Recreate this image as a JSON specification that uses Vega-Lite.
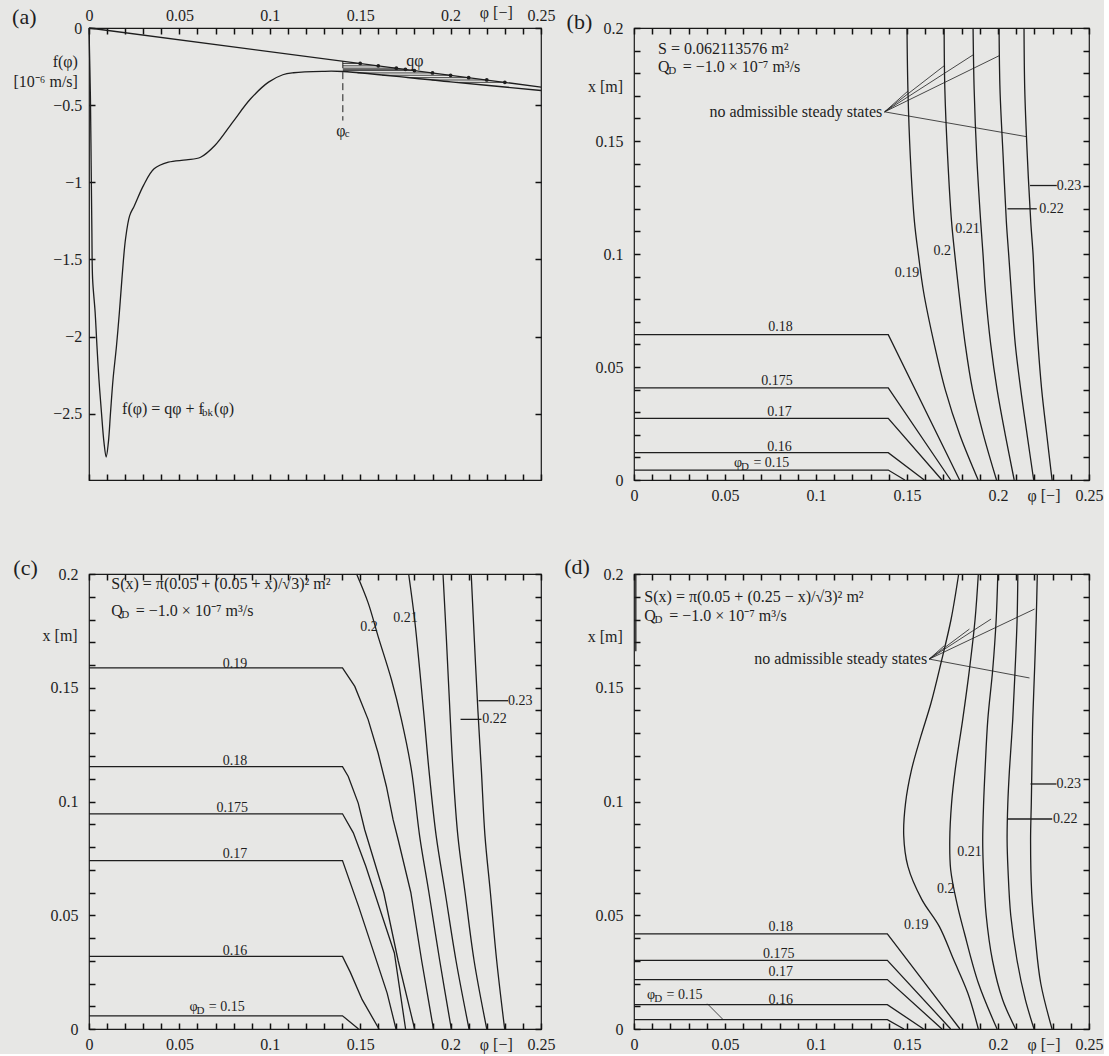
{
"$schema":"https://vega.github.io/schema/vega-lite/v6.json",
"background":"#e7e7e5",
"padding":{"left":11,"top":3,"right":0,"bottom":0},
"bounds":"flush",
"columns":2,
"spacing":{"row":94,"column":93},
"config":{
 "view":{"stroke":"#1a1a1a","strokeWidth":1.2},
 "font":"Liberation Serif",
 "axis":{"domain":false,"grid":false,"ticks":true,"tickColor":"#111111","tickOpacity":1,"tickWidth":1.5,"tickSize":6,"labelFont":"Liberation Serif","labelFontSize":16,"labelColor":"#1e1e1e","titleFont":"Liberation Serif","titleFontSize":16,"titleFontWeight":"normal","titleColor":"#1e1e1e","labelFlush":false,"labelOverlap":false,"zindex":1},
 "axisBottom":{"labelBaseline":"middle","labelPadding":15.3},
 "axisLeft":{"labelBaseline":"middle","labelPadding":11},
 "axisTop":{"labelBaseline":"middle","labelPadding":12.7},
 "line":{"color":"#1e1e1e","strokeWidth":1.3},
 "text":{"font":"Liberation Serif","color":"#1e1e1e"}
},
"datasets":{
 "a_lines":[
  {"s":"f","phi":0,"f":0},{"s":"f","phi":0.0008,"f":-0.459},{"s":"f","phi":0.0012,"f":-0.892},{"s":"f","phi":0.0016,"f":-1.325},{"s":"f","phi":0.002,"f":-1.628},{"s":"f","phi":0.0034,"f":-1.844},{"s":"f","phi":0.0044,"f":-2.061},{"s":"f","phi":0.0055,"f":-2.277},{"s":"f","phi":0.0069,"f":-2.494},{"s":"f","phi":0.0083,"f":-2.688},{"s":"f","phi":0.0095,"f":-2.781},{"s":"f","phi":0.0107,"f":-2.688},{"s":"f","phi":0.0119,"f":-2.494},{"s":"f","phi":0.0133,"f":-2.277},{"s":"f","phi":0.0152,"f":-2.061},{"s":"f","phi":0.0168,"f":-1.844},{"s":"f","phi":0.0182,"f":-1.628},{"s":"f","phi":0.0202,"f":-1.368},{"s":"f","phi":0.0225,"f":-1.216},{"s":"f","phi":0.0251,"f":-1.152},{"s":"f","phi":0.0301,"f":-1.022},{"s":"f","phi":0.036,"f":-0.913},{"s":"f","phi":0.0439,"f":-0.87},{"s":"f","phi":0.0538,"f":-0.855},{"s":"f","phi":0.0617,"f":-0.838},{"s":"f","phi":0.0696,"f":-0.762},{"s":"f","phi":0.0795,"f":-0.61},{"s":"f","phi":0.0894,"f":-0.459},{"s":"f","phi":0.0993,"f":-0.351},{"s":"f","phi":0.1072,"f":-0.303},{"s":"f","phi":0.1131,"f":-0.29},{"s":"f","phi":0.129,"f":-0.281},{"s":"f","phi":0.1404,"f":-0.282},{"s":"f","phi":0.2,"f":-0.349},{"s":"f","phi":0.25,"f":-0.405},
  {"s":"q","phi":0,"f":0},{"s":"q","phi":0.25,"f":-0.383}
 ],
 "a_h":[
  {"s":"h15","phi":0.1404,"f":-0.2298},{"s":"h15","phi":0.15,"f":-0.2298},
  {"s":"h16","phi":0.1404,"f":-0.2451},{"s":"h16","phi":0.16,"f":-0.2451},
  {"s":"h17","phi":0.1404,"f":-0.2604},{"s":"h17","phi":0.17,"f":-0.2604},
  {"s":"h175","phi":0.1404,"f":-0.2681},{"s":"h175","phi":0.175,"f":-0.2681},
  {"s":"h18","phi":0.1404,"f":-0.2758},{"s":"h18","phi":0.18,"f":-0.2758},
  {"s":"h19","phi":0.1485,"f":-0.2911},{"s":"h19","phi":0.19,"f":-0.2911},
  {"s":"h20","phi":0.1622,"f":-0.3064},{"s":"h20","phi":0.2,"f":-0.3064},
  {"s":"h21","phi":0.1758,"f":-0.3217},{"s":"h21","phi":0.21,"f":-0.3217},
  {"s":"h22","phi":0.1895,"f":-0.337},{"s":"h22","phi":0.22,"f":-0.337},
  {"s":"h23","phi":0.2033,"f":-0.3524},{"s":"h23","phi":0.23,"f":-0.3524}
 ],
 "a_dash":[{"s":"c","phi":0.1404,"f":-0.215},{"s":"c","phi":0.1404,"f":-0.6}],
 "a_dots":[
  {"phi":0.15,"f":-0.2298},{"phi":0.16,"f":-0.2451},{"phi":0.17,"f":-0.2604},{"phi":0.175,"f":-0.2681},{"phi":0.18,"f":-0.2758},{"phi":0.19,"f":-0.2911},{"phi":0.2,"f":-0.3064},{"phi":0.21,"f":-0.3217},{"phi":0.22,"f":-0.337},{"phi":0.23,"f":-0.3524}
 ],
 "a_tc":[
  {"t":"(a)","role":"panel","phi":-0.0358,"f":0.0714},
  {"t":"qφ","role":"note","phi":0.1803,"f":-0.216}
 ],
 "a_tl":[
  {"t":"φ","role":"note","phi":0.1368,"f":-0.665},
  {"t":"c","role":"sub","phi":0.1414,"f":-0.69},
  {"t":"f(φ) = qφ + f","role":"note","phi":0.0183,"f":-2.47},
  {"t":"bk","role":"sub","phi":0.0625,"f":-2.495},
  {"t":"(φ)","role":"note","phi":0.0692,"f":-2.47}
 ],
 "b_curves":[
  {"s":"l15","phi":0,"x":0.0044},{"s":"l15","phi":0.1397,"x":0.0044},{"s":"l15","phi":0.1488,"x":0},
  {"s":"l16","phi":0,"x":0.0121},{"s":"l16","phi":0.1397,"x":0.0121},{"s":"l16","phi":0.1595,"x":0},
  {"s":"l17","phi":0,"x":0.0273},{"s":"l17","phi":0.1397,"x":0.0273},{"s":"l17","phi":0.1692,"x":0},
  {"s":"l175","phi":0,"x":0.0408},{"s":"l175","phi":0.1397,"x":0.0408},{"s":"l175","phi":0.174,"x":0},
  {"s":"l18","phi":0,"x":0.0643},{"s":"l18","phi":0.1397,"x":0.0643},{"s":"l18","phi":0.1789,"x":0},
  {"s":"u19","phi":0.15,"x":0.2},{"s":"u19","phi":0.1505,"x":0.1728},{"s":"u19","phi":0.1518,"x":0.1435},{"s":"u19","phi":0.1541,"x":0.1142},{"s":"u19","phi":0.1563,"x":0.0995},{"s":"u19","phi":0.1591,"x":0.0833},{"s":"u19","phi":0.165,"x":0.06},{"s":"u19","phi":0.171,"x":0.04},{"s":"u19","phi":0.179,"x":0.02},{"s":"u19","phi":0.1891,"x":0},
  {"s":"u20","phi":0.1704,"x":0.2},{"s":"u20","phi":0.1708,"x":0.1728},{"s":"u20","phi":0.1723,"x":0.1435},{"s":"u20","phi":0.1745,"x":0.1142},{"s":"u20","phi":0.1763,"x":0.0995},{"s":"u20","phi":0.1785,"x":0.0833},{"s":"u20","phi":0.182,"x":0.06},{"s":"u20","phi":0.186,"x":0.04},{"s":"u20","phi":0.192,"x":0.02},{"s":"u20","phi":0.1992,"x":0},
  {"s":"u21","phi":0.1863,"x":0.2},{"s":"u21","phi":0.1869,"x":0.1728},{"s":"u21","phi":0.1883,"x":0.1435},{"s":"u21","phi":0.1905,"x":0.1142},{"s":"u21","phi":0.1918,"x":0.0995},{"s":"u21","phi":0.1931,"x":0.0833},{"s":"u21","phi":0.196,"x":0.06},{"s":"u21","phi":0.1995,"x":0.04},{"s":"u21","phi":0.204,"x":0.02},{"s":"u21","phi":0.2089,"x":0},
  {"s":"u22","phi":0.2006,"x":0.2},{"s":"u22","phi":0.2011,"x":0.1728},{"s":"u22","phi":0.2028,"x":0.1435},{"s":"u22","phi":0.2046,"x":0.1142},{"s":"u22","phi":0.2059,"x":0.0995},{"s":"u22","phi":0.2073,"x":0.0833},{"s":"u22","phi":0.2095,"x":0.06},{"s":"u22","phi":0.2125,"x":0.04},{"s":"u22","phi":0.216,"x":0.02},{"s":"u22","phi":0.2196,"x":0},
  {"s":"u23","phi":0.2143,"x":0.2},{"s":"u23","phi":0.2147,"x":0.1728},{"s":"u23","phi":0.2161,"x":0.1435},{"s":"u23","phi":0.218,"x":0.1142},{"s":"u23","phi":0.2193,"x":0.0995},{"s":"u23","phi":0.2202,"x":0.0833},{"s":"u23","phi":0.222,"x":0.06},{"s":"u23","phi":0.224,"x":0.04},{"s":"u23","phi":0.2268,"x":0.02},{"s":"u23","phi":0.2297,"x":0},
  {"s":"t23","phi":0.2176,"x":0.1303},{"s":"t23","phi":0.2323,"x":0.1303},
  {"s":"t22","phi":0.2052,"x":0.12},{"s":"t22","phi":0.2213,"x":0.12}
 ],
 "b_lead":[
  {"s":"n1","phi":0.1377,"x":0.1629},{"s":"n1","phi":0.1505,"x":0.1721},
  {"s":"n2","phi":0.1377,"x":0.1629},{"s":"n2","phi":0.1706,"x":0.1834},
  {"s":"n3","phi":0.1377,"x":0.1629},{"s":"n3","phi":0.1865,"x":0.1882},
  {"s":"n4","phi":0.1377,"x":0.1629},{"s":"n4","phi":0.2008,"x":0.1878},
  {"s":"n5","phi":0.1377,"x":0.1629},{"s":"n5","phi":0.2158,"x":0.1519}
 ],
 "b_tc":[
  {"t":"(b)","role":"panel","phi":-0.03,"x":0.2026},
  {"t":"0.21","role":"label","phi":0.1833,"x":0.1112},
  {"t":"0.2","role":"label","phi":0.1693,"x":0.1015},
  {"t":"0.19","role":"label","phi":0.15,"x":0.0918},
  {"t":"0.18","role":"label","phi":0.0805,"x":0.0675},
  {"t":"0.175","role":"label","phi":0.0786,"x":0.0437},
  {"t":"0.17","role":"label","phi":0.0799,"x":0.0301},
  {"t":"0.16","role":"label","phi":0.0799,"x":0.0147}
 ],
 "b_tl":[
  {"t":"S = 0.062113576 m²","role":"note","phi":0.0132,"x":0.1907},
  {"t":"Q","role":"note","phi":0.0132,"x":0.1828},
  {"t":"D","role":"sub","phi":0.0188,"x":0.181},
  {"t":"= −1.0 × 10⁻⁷ m³/s","role":"note","phi":0.0268,"x":0.1828},
  {"t":"0.23","role":"label","phi":0.2323,"x":0.1303},
  {"t":"0.22","role":"label","phi":0.2226,"x":0.12},
  {"t":"φ","role":"label","phi":0.0549,"x":0.0074},
  {"t":"D","role":"sub","phi":0.0588,"x":0.0056},
  {"t":"= 0.15","role":"label","phi":0.0656,"x":0.0074}
 ],
 "b_tr":[
  {"t":"no admissible steady states","role":"note","phi":0.1364,"x":0.1629}
 ],
 "c_curves":[
  {"s":"l15","phi":0,"x":0.0058},{"s":"l15","phi":0.1402,"x":0.0058},{"s":"l15","phi":0.1491,"x":0},
  {"s":"l16","phi":0,"x":0.0319},{"s":"l16","phi":0.1402,"x":0.0319},{"s":"l16","phi":0.1445,"x":0.025},{"s":"l16","phi":0.1511,"x":0.0129},{"s":"l16","phi":0.1604,"x":0},
  {"s":"l17","phi":0,"x":0.074},{"s":"l17","phi":0.1402,"x":0.074},{"s":"l17","phi":0.1491,"x":0.0539},{"s":"l17","phi":0.157,"x":0.0349},{"s":"l17","phi":0.1649,"x":0.0158},{"s":"l17","phi":0.1698,"x":0},
  {"s":"l175","phi":0,"x":0.0946},{"s":"l175","phi":0.1402,"x":0.0946},{"s":"l175","phi":0.1462,"x":0.0862},{"s":"l175","phi":0.1531,"x":0.0715},{"s":"l175","phi":0.161,"x":0.0524},{"s":"l175","phi":0.1689,"x":0.0334},{"s":"l175","phi":0.1751,"x":0},
  {"s":"l18","phi":0,"x":0.1153},{"s":"l18","phi":0.1402,"x":0.1153},{"s":"l18","phi":0.1434,"x":0.111},{"s":"l18","phi":0.1489,"x":0.0993},{"s":"l18","phi":0.1525,"x":0.0876},{"s":"l18","phi":0.163,"x":0.06},{"s":"l18","phi":0.171,"x":0.03},{"s":"l18","phi":0.1801,"x":0},
  {"s":"l19","phi":0,"x":0.1587},{"s":"l19","phi":0.1402,"x":0.1587},{"s":"l19","phi":0.147,"x":0.1506},{"s":"l19","phi":0.1544,"x":0.136},{"s":"l19","phi":0.1599,"x":0.1213},{"s":"l19","phi":0.1645,"x":0.1066},{"s":"l19","phi":0.1682,"x":0.092},{"s":"l19","phi":0.171,"x":0.0832},{"s":"l19","phi":0.178,"x":0.06},{"s":"l19","phi":0.184,"x":0.03},{"s":"l19","phi":0.1905,"x":0},
  {"s":"u20","phi":0.148,"x":0.2},{"s":"u20","phi":0.1544,"x":0.1873},{"s":"u20","phi":0.1599,"x":0.1726},{"s":"u20","phi":0.1673,"x":0.1535},{"s":"u20","phi":0.1728,"x":0.136},{"s":"u20","phi":0.1783,"x":0.114},{"s":"u20","phi":0.1829,"x":0.0847},{"s":"u20","phi":0.188,"x":0.06},{"s":"u20","phi":0.194,"x":0.03},{"s":"u20","phi":0.2004,"x":0},
  {"s":"u21","phi":0.1768,"x":0.2},{"s":"u21","phi":0.1801,"x":0.18},{"s":"u21","phi":0.1829,"x":0.158},{"s":"u21","phi":0.1855,"x":0.136},{"s":"u21","phi":0.188,"x":0.114},{"s":"u21","phi":0.192,"x":0.085},{"s":"u21","phi":0.197,"x":0.06},{"s":"u21","phi":0.203,"x":0.03},{"s":"u21","phi":0.2102,"x":0},
  {"s":"u22","phi":0.1958,"x":0.2},{"s":"u22","phi":0.1976,"x":0.1726},{"s":"u22","phi":0.1994,"x":0.1433},{"s":"u22","phi":0.2013,"x":0.114},{"s":"u22","phi":0.204,"x":0.085},{"s":"u22","phi":0.208,"x":0.06},{"s":"u22","phi":0.213,"x":0.03},{"s":"u22","phi":0.22,"x":0},
  {"s":"u23","phi":0.2114,"x":0.2},{"s":"u23","phi":0.2132,"x":0.17},{"s":"u23","phi":0.2151,"x":0.14},{"s":"u23","phi":0.217,"x":0.114},{"s":"u23","phi":0.219,"x":0.085},{"s":"u23","phi":0.222,"x":0.06},{"s":"u23","phi":0.2255,"x":0.03},{"s":"u23","phi":0.2299,"x":0},
  {"s":"t23","phi":0.2155,"x":0.1443},{"s":"t23","phi":0.2318,"x":0.1443},
  {"s":"t22","phi":0.2055,"x":0.1361},{"s":"t22","phi":0.2171,"x":0.1361}
 ],
 "c_tc":[
  {"t":"(c)","role":"panel","phi":-0.0351,"x":0.2026},
  {"t":"0.19","role":"label","phi":0.0807,"x":0.1604},
  {"t":"0.18","role":"label","phi":0.0807,"x":0.1179},
  {"t":"0.175","role":"label","phi":0.0792,"x":0.0973},
  {"t":"0.17","role":"label","phi":0.0807,"x":0.0771},
  {"t":"0.16","role":"label","phi":0.0807,"x":0.0344},
  {"t":"0.2","role":"label","phi":0.1548,"x":0.1766},
  {"t":"0.21","role":"label","phi":0.175,"x":0.1808}
 ],
 "c_tl":[
  {"t":"S(x) = π(0.05 + (0.05 + x)/√3)² m²","role":"note","phi":0.0123,"x":0.1957},
  {"t":"Q","role":"note","phi":0.0123,"x":0.1839},
  {"t":"D","role":"sub","phi":0.0179,"x":0.1821},
  {"t":"= −1.0 × 10⁻⁷ m³/s","role":"note","phi":0.0259,"x":0.1839},
  {"t":"0.23","role":"label","phi":0.2318,"x":0.1443},
  {"t":"0.22","role":"label","phi":0.2175,"x":0.1361},
  {"t":"φ","role":"label","phi":0.0556,"x":0.0096},
  {"t":"D","role":"sub","phi":0.0595,"x":0.0078},
  {"t":"= 0.15","role":"label","phi":0.0663,"x":0.0096}
 ],
 "d_curves":[
  {"s":"v0","phi":0.001,"x":0.166},{"s":"v0","phi":0.001,"x":0.2},
  {"s":"l15","phi":0,"x":0.0041},{"s":"l15","phi":0.1392,"x":0.0041},{"s":"l15","phi":0.1483,"x":0},
  {"s":"l16","phi":0,"x":0.0107},{"s":"l16","phi":0.1392,"x":0.0107},{"s":"l16","phi":0.1591,"x":0},
  {"s":"l17","phi":0,"x":0.0217},{"s":"l17","phi":0.1392,"x":0.0217},{"s":"l17","phi":0.1692,"x":0},
  {"s":"l175","phi":0,"x":0.0302},{"s":"l175","phi":0.1392,"x":0.0302},{"s":"l175","phi":0.174,"x":0},
  {"s":"l18","phi":0,"x":0.0418},{"s":"l18","phi":0.1392,"x":0.0418},{"s":"l18","phi":0.1791,"x":0},
  {"s":"u19","phi":0.1784,"x":0.2},{"s":"u19","phi":0.1742,"x":0.18},{"s":"u19","phi":0.1687,"x":0.161},{"s":"u19","phi":0.1632,"x":0.1433},{"s":"u19","phi":0.1576,"x":0.1286},{"s":"u19","phi":0.1525,"x":0.114},{"s":"u19","phi":0.1492,"x":0.0993},{"s":"u19","phi":0.1482,"x":0.085},{"s":"u19","phi":0.1505,"x":0.0715},{"s":"u19","phi":0.1581,"x":0.057},{"s":"u19","phi":0.1678,"x":0.045},{"s":"u19","phi":0.1756,"x":0.0305},{"s":"u19","phi":0.1834,"x":0.0158},{"s":"u19","phi":0.1892,"x":0},
  {"s":"u20","phi":0.1892,"x":0.2},{"s":"u20","phi":0.1874,"x":0.18},{"s":"u20","phi":0.1843,"x":0.158},{"s":"u20","phi":0.1806,"x":0.136},{"s":"u20","phi":0.1765,"x":0.114},{"s":"u20","phi":0.1745,"x":0.0993},{"s":"u20","phi":0.1735,"x":0.0832},{"s":"u20","phi":0.174,"x":0.07},{"s":"u20","phi":0.1775,"x":0.055},{"s":"u20","phi":0.1815,"x":0.0423},{"s":"u20","phi":0.1892,"x":0.0202},{"s":"u20","phi":0.1995,"x":0},
  {"s":"u21","phi":0.1999,"x":0.2},{"s":"u21","phi":0.199,"x":0.18},{"s":"u21","phi":0.1971,"x":0.158},{"s":"u21","phi":0.1944,"x":0.136},{"s":"u21","phi":0.1929,"x":0.114},{"s":"u21","phi":0.1921,"x":0.0993},{"s":"u21","phi":0.1916,"x":0.0832},{"s":"u21","phi":0.192,"x":0.07},{"s":"u21","phi":0.1935,"x":0.05},{"s":"u21","phi":0.197,"x":0.03},{"s":"u21","phi":0.2025,"x":0.013},{"s":"u21","phi":0.2097,"x":0},
  {"s":"u22","phi":0.2109,"x":0.2},{"s":"u22","phi":0.2105,"x":0.18},{"s":"u22","phi":0.2094,"x":0.158},{"s":"u22","phi":0.2081,"x":0.136},{"s":"u22","phi":0.2063,"x":0.114},{"s":"u22","phi":0.2054,"x":0.0993},{"s":"u22","phi":0.205,"x":0.0832},{"s":"u22","phi":0.2055,"x":0.07},{"s":"u22","phi":0.207,"x":0.05},{"s":"u22","phi":0.2105,"x":0.03},{"s":"u22","phi":0.215,"x":0.013},{"s":"u22","phi":0.2198,"x":0},
  {"s":"u23","phi":0.2216,"x":0.2},{"s":"u23","phi":0.221,"x":0.18},{"s":"u23","phi":0.2201,"x":0.158},{"s":"u23","phi":0.2191,"x":0.136},{"s":"u23","phi":0.2186,"x":0.114},{"s":"u23","phi":0.2183,"x":0.0993},{"s":"u23","phi":0.2179,"x":0.0832},{"s":"u23","phi":0.2185,"x":0.06},{"s":"u23","phi":0.2205,"x":0.04},{"s":"u23","phi":0.2235,"x":0.02},{"s":"u23","phi":0.2297,"x":0},
  {"s":"t23","phi":0.2179,"x":0.1077},{"s":"t23","phi":0.2321,"x":0.1077},
  {"s":"t22","phi":0.205,"x":0.0923},{"s":"t22","phi":0.2298,"x":0.0923}
 ],
 "d_lead":[
  {"s":"n1","phi":0.1622,"x":0.1626},{"s":"n1","phi":0.1705,"x":0.1685},
  {"s":"n2","phi":0.1622,"x":0.1626},{"s":"n2","phi":0.1843,"x":0.1758},
  {"s":"n3","phi":0.1622,"x":0.1626},{"s":"n3","phi":0.1962,"x":0.1802},
  {"s":"n4","phi":0.1622,"x":0.1626},{"s":"n4","phi":0.2201,"x":0.1846},
  {"s":"n5","phi":0.1622,"x":0.1626},{"s":"n5","phi":0.2173,"x":0.1543},
  {"s":"p","phi":0.0403,"x":0.0111},{"s":"p","phi":0.049,"x":0.0041}
 ],
 "d_tc":[
  {"t":"(d)","role":"panel","phi":-0.0313,"x":0.203},
  {"t":"0.18","role":"label","phi":0.0807,"x":0.0447},
  {"t":"0.175","role":"label","phi":0.0795,"x":0.0331},
  {"t":"0.17","role":"label","phi":0.0807,"x":0.0249},
  {"t":"0.16","role":"label","phi":0.0807,"x":0.0128},
  {"t":"0.19","role":"label","phi":0.1551,"x":0.0458},
  {"t":"0.2","role":"label","phi":0.1713,"x":0.0617},
  {"t":"0.21","role":"label","phi":0.1843,"x":0.0777}
 ],
 "d_tl":[
  {"t":"S(x) = π(0.05 + (0.25 − x)/√3)² m²","role":"note","phi":0.0057,"x":0.1897},
  {"t":"Q","role":"note","phi":0.0057,"x":0.1815},
  {"t":"D","role":"sub","phi":0.0113,"x":0.1797},
  {"t":"= −1.0 × 10⁻⁷ m³/s","role":"note","phi":0.0193,"x":0.1815},
  {"t":"0.23","role":"label","phi":0.2321,"x":0.1077},
  {"t":"0.22","role":"label","phi":0.2302,"x":0.0923},
  {"t":"φ","role":"label","phi":0.0072,"x":0.0151},
  {"t":"D","role":"sub","phi":0.0111,"x":0.0133},
  {"t":"= 0.15","role":"label","phi":0.0179,"x":0.0151}
 ],
 "d_tr":[
  {"t":"no admissible steady states","role":"note","phi":0.1611,"x":0.1626}
 ]
},
"concat":[
 {
  "width":452,"height":452,
  "layer":[
   {"data":{"name":"a_lines"},"transform":[{"filter":"datum.s !== 'f'"}],"mark":{"type":"line","order":false},
    "encoding":{
     "x":{"field":"phi","type":"quantitative","scale":{"domain":[0,0.25],"nice":false,"zero":false},
      "axis":{"orient":"top","offset":-6,"values":[0,0.01,0.02,0.03,0.04,0.05,0.06,0.07,0.08,0.09,0.1,0.11,0.12,0.13,0.14,0.15,0.16,0.17,0.18,0.19,0.2,0.21,0.22,0.23,0.24,0.25],"format":"~g","labelExpr":"round(datum.value*100) % 5 === 0 ? datum.label : ''","title":"φ [−]","titleX":406.8,"titleY":-22,"titleAlign":"center","titleBaseline":"middle","titleAngle":0}},
     "y":{"field":"f","type":"quantitative","scale":{"domain":[-2.93,0],"nice":false,"zero":false},
      "axis":{"orient":"left","offset":-6,"values":[0,-0.5,-1,-1.5,-2,-2.5],"format":"~g","labelPadding":7.2,"title":["f(φ)","[10⁻⁶ m/s]"],"titleX":-17.6,"titleY":33.5,"titleAlign":"right","titleBaseline":"middle","titleAngle":0,"titleLineHeight":19.5}},
     "detail":{"field":"s"}}},
   {"data":{"name":"a_lines"},"transform":[{"filter":"datum.s === 'f'"}],"mark":{"type":"line","order":false,"interpolate":"catmull-rom"},
    "encoding":{
     "x":{"field":"phi","type":"quantitative","scale":{"domain":[0,0.25],"nice":false,"zero":false},"axis":null},
     "y":{"field":"f","type":"quantitative","scale":{"domain":[-2.93,0],"nice":false,"zero":false},"axis":null}}},
   {"data":{"name":"a_h"},"mark":{"type":"line","order":false,"strokeWidth":0.8},
    "encoding":{
     "x":{"field":"phi","type":"quantitative","scale":{"domain":[0,0.25],"nice":false,"zero":false},"axis":null},
     "y":{"field":"f","type":"quantitative","scale":{"domain":[-2.93,0],"nice":false,"zero":false},"axis":null},
     "detail":{"field":"s"}}},
   {"data":{"name":"a_dash"},"mark":{"type":"line","order":false,"strokeWidth":1,"strokeDash":[7,4]},
    "encoding":{
     "x":{"field":"phi","type":"quantitative","scale":{"domain":[0,0.25],"nice":false,"zero":false},"axis":null},
     "y":{"field":"f","type":"quantitative","scale":{"domain":[-2.93,0],"nice":false,"zero":false},"axis":null}}},
   {"data":{"name":"a_dots"},"mark":{"type":"point","filled":true,"size":14,"color":"#1e1e1e","opacity":1},
    "encoding":{
     "x":{"field":"phi","type":"quantitative","scale":{"domain":[0,0.25],"nice":false,"zero":false},
      "axis":{"orient":"bottom","offset":-6,"values":[0,0.01,0.02,0.03,0.04,0.05,0.06,0.07,0.08,0.09,0.1,0.11,0.12,0.13,0.14,0.15,0.16,0.17,0.18,0.19,0.2,0.21,0.22,0.23,0.24,0.25],"labels":false,"title":null}},
     "y":{"field":"f","type":"quantitative","scale":{"domain":[-2.93,0],"nice":false,"zero":false},
      "axis":{"orient":"right","offset":-6,"values":[0,-0.5,-1,-1.5,-2,-2.5],"labels":false,"title":null}}}},
   {"data":{"name":"a_tc"},"mark":{"type":"text","align":"center","baseline":"middle"},
    "encoding":{
     "x":{"field":"phi","type":"quantitative","scale":{"domain":[0,0.25],"nice":false,"zero":false},"axis":null},
     "y":{"field":"f","type":"quantitative","scale":{"domain":[-2.93,0],"nice":false,"zero":false},"axis":null},
     "text":{"field":"t"},
     "size":{"field":"role","type":"nominal","scale":{"type":"ordinal","domain":["label","note","panel","sub"],"range":[14,16,22,11]},"legend":null}}},
   {"data":{"name":"a_tl"},"mark":{"type":"text","align":"left","baseline":"middle"},
    "encoding":{
     "x":{"field":"phi","type":"quantitative","scale":{"domain":[0,0.25],"nice":false,"zero":false},"axis":null},
     "y":{"field":"f","type":"quantitative","scale":{"domain":[-2.93,0],"nice":false,"zero":false},"axis":null},
     "text":{"field":"t"},
     "size":{"field":"role","type":"nominal","scale":{"type":"ordinal","domain":["label","note","panel","sub"],"range":[14,16,22,11]},"legend":null}}}
  ],
  "resolve":{"axis":{"x":"independent","y":"independent"}}
 },
 {
  "width":455,"height":452,
  "layer":[
   {"data":{"name":"b_curves"},"transform":[{"filter":"indexof(datum.s,'u') !== 0"}],"mark":{"type":"line","order":false},
    "encoding":{
     "x":{"field":"phi","type":"quantitative","scale":{"domain":[0,0.25],"nice":false,"zero":false},
      "axis":{"orient":"bottom","offset":-6,"values":[0,0.01,0.02,0.03,0.04,0.05,0.06,0.07,0.08,0.09,0.1,0.11,0.12,0.13,0.14,0.15,0.16,0.17,0.18,0.19,0.2,0.21,0.22,0.23,0.24,0.25],"format":"~g","labelExpr":"round(datum.value*100) % 5 === 0 ? datum.label : ''","title":"φ [−]","titleX":409.5,"titleY":21.7,"titleAlign":"center","titleBaseline":"middle","titleAngle":0}},
     "y":{"field":"x","type":"quantitative","scale":{"domain":[0,0.2],"nice":false,"zero":false},
      "axis":{"orient":"left","offset":-6,"values":[0,0.01,0.02,0.03,0.04,0.05,0.06,0.07,0.08,0.09,0.1,0.11,0.12,0.13,0.14,0.15,0.16,0.17,0.18,0.19,0.2],"format":"~g","labelExpr":"round(datum.value*100) % 5 === 0 ? datum.label : ''","title":"x [m]","titleX":-17.4,"titleY":58,"titleAlign":"right","titleBaseline":"middle","titleAngle":0}},
     "detail":{"field":"s"}}},
   {"data":{"name":"b_curves"},"transform":[{"filter":"indexof(datum.s,'u') === 0"}],"mark":{"type":"line","order":false,"interpolate":"catmull-rom"},
    "encoding":{
     "x":{"field":"phi","type":"quantitative","scale":{"domain":[0,0.25],"nice":false,"zero":false},"axis":null},
     "y":{"field":"x","type":"quantitative","scale":{"domain":[0,0.2],"nice":false,"zero":false},"axis":null},
     "detail":{"field":"s"}}},
   {"data":{"name":"b_lead"},"mark":{"type":"line","order":false,"strokeWidth":0.8},
    "encoding":{
     "x":{"field":"phi","type":"quantitative","scale":{"domain":[0,0.25],"nice":false,"zero":false},"axis":null},
     "y":{"field":"x","type":"quantitative","scale":{"domain":[0,0.2],"nice":false,"zero":false},"axis":null},
     "detail":{"field":"s"}}},
   {"data":{"name":"b_tc"},"mark":{"type":"text","align":"center","baseline":"middle"},
    "encoding":{
     "x":{"field":"phi","type":"quantitative","scale":{"domain":[0,0.25],"nice":false,"zero":false},
      "axis":{"orient":"top","offset":-6,"values":[0,0.01,0.02,0.03,0.04,0.05,0.06,0.07,0.08,0.09,0.1,0.11,0.12,0.13,0.14,0.15,0.16,0.17,0.18,0.19,0.2,0.21,0.22,0.23,0.24,0.25],"labels":false,"title":null}},
     "y":{"field":"x","type":"quantitative","scale":{"domain":[0,0.2],"nice":false,"zero":false},
      "axis":{"orient":"right","offset":-6,"values":[0,0.01,0.02,0.03,0.04,0.05,0.06,0.07,0.08,0.09,0.1,0.11,0.12,0.13,0.14,0.15,0.16,0.17,0.18,0.19,0.2],"labels":false,"title":null}},
     "text":{"field":"t"},
     "size":{"field":"role","type":"nominal","scale":{"type":"ordinal","domain":["label","note","panel","sub"],"range":[14,16,22,11]},"legend":null}}},
   {"data":{"name":"b_tl"},"mark":{"type":"text","align":"left","baseline":"middle"},
    "encoding":{
     "x":{"field":"phi","type":"quantitative","scale":{"domain":[0,0.25],"nice":false,"zero":false},"axis":null},
     "y":{"field":"x","type":"quantitative","scale":{"domain":[0,0.2],"nice":false,"zero":false},"axis":null},
     "text":{"field":"t"},
     "size":{"field":"role","type":"nominal","scale":{"type":"ordinal","domain":["label","note","panel","sub"],"range":[14,16,22,11]},"legend":null}}},
   {"data":{"name":"b_tr"},"mark":{"type":"text","align":"right","baseline":"middle"},
    "encoding":{
     "x":{"field":"phi","type":"quantitative","scale":{"domain":[0,0.25],"nice":false,"zero":false},"axis":null},
     "y":{"field":"x","type":"quantitative","scale":{"domain":[0,0.2],"nice":false,"zero":false},"axis":null},
     "text":{"field":"t"},
     "size":{"field":"role","type":"nominal","scale":{"type":"ordinal","domain":["label","note","panel","sub"],"range":[14,16,22,11]},"legend":null}}}
  ],
  "resolve":{"axis":{"x":"independent","y":"independent"}}
 },
 {
  "width":452,"height":455,
  "layer":[
   {"data":{"name":"c_curves"},"transform":[{"filter":"indexof(datum.s,'u') !== 0"}],"mark":{"type":"line","order":false},
    "encoding":{
     "x":{"field":"phi","type":"quantitative","scale":{"domain":[0,0.25],"nice":false,"zero":false},
      "axis":{"orient":"bottom","offset":-6,"values":[0,0.01,0.02,0.03,0.04,0.05,0.06,0.07,0.08,0.09,0.1,0.11,0.12,0.13,0.14,0.15,0.16,0.17,0.18,0.19,0.2,0.21,0.22,0.23,0.24,0.25],"format":"~g","labelExpr":"round(datum.value*100) % 5 === 0 ? datum.label : ''","title":"φ [−]","titleX":406.8,"titleY":21.7,"titleAlign":"center","titleBaseline":"middle","titleAngle":0}},
     "y":{"field":"x","type":"quantitative","scale":{"domain":[0,0.2],"nice":false,"zero":false},
      "axis":{"orient":"left","offset":-6,"values":[0,0.01,0.02,0.03,0.04,0.05,0.06,0.07,0.08,0.09,0.1,0.11,0.12,0.13,0.14,0.15,0.16,0.17,0.18,0.19,0.2],"format":"~g","labelExpr":"round(datum.value*100) % 5 === 0 ? datum.label : ''","title":"x [m]","titleX":-17.8,"titleY":61,"titleAlign":"right","titleBaseline":"middle","titleAngle":0}},
     "detail":{"field":"s"}}},
   {"data":{"name":"c_curves"},"transform":[{"filter":"indexof(datum.s,'u') === 0"}],"mark":{"type":"line","order":false,"interpolate":"catmull-rom"},
    "encoding":{
     "x":{"field":"phi","type":"quantitative","scale":{"domain":[0,0.25],"nice":false,"zero":false},"axis":null},
     "y":{"field":"x","type":"quantitative","scale":{"domain":[0,0.2],"nice":false,"zero":false},"axis":null},
     "detail":{"field":"s"}}},
   {"data":{"name":"c_tc"},"mark":{"type":"text","align":"center","baseline":"middle"},
    "encoding":{
     "x":{"field":"phi","type":"quantitative","scale":{"domain":[0,0.25],"nice":false,"zero":false},
      "axis":{"orient":"top","offset":-6,"values":[0,0.01,0.02,0.03,0.04,0.05,0.06,0.07,0.08,0.09,0.1,0.11,0.12,0.13,0.14,0.15,0.16,0.17,0.18,0.19,0.2,0.21,0.22,0.23,0.24,0.25],"labels":false,"title":null}},
     "y":{"field":"x","type":"quantitative","scale":{"domain":[0,0.2],"nice":false,"zero":false},
      "axis":{"orient":"right","offset":-6,"values":[0,0.01,0.02,0.03,0.04,0.05,0.06,0.07,0.08,0.09,0.1,0.11,0.12,0.13,0.14,0.15,0.16,0.17,0.18,0.19,0.2],"labels":false,"title":null}},
     "text":{"field":"t"},
     "size":{"field":"role","type":"nominal","scale":{"type":"ordinal","domain":["label","note","panel","sub"],"range":[14,16,22,11]},"legend":null}}},
   {"data":{"name":"c_tl"},"mark":{"type":"text","align":"left","baseline":"middle"},
    "encoding":{
     "x":{"field":"phi","type":"quantitative","scale":{"domain":[0,0.25],"nice":false,"zero":false},"axis":null},
     "y":{"field":"x","type":"quantitative","scale":{"domain":[0,0.2],"nice":false,"zero":false},"axis":null},
     "text":{"field":"t"},
     "size":{"field":"role","type":"nominal","scale":{"type":"ordinal","domain":["label","note","panel","sub"],"range":[14,16,22,11]},"legend":null}}}
  ],
  "resolve":{"axis":{"x":"independent","y":"independent"}}
 },
 {
  "width":455,"height":455,
  "layer":[
   {"data":{"name":"d_curves"},"transform":[{"filter":"indexof(datum.s,'u') !== 0"}],"mark":{"type":"line","order":false},
    "encoding":{
     "x":{"field":"phi","type":"quantitative","scale":{"domain":[0,0.25],"nice":false,"zero":false},
      "axis":{"orient":"bottom","offset":-6,"values":[0,0.01,0.02,0.03,0.04,0.05,0.06,0.07,0.08,0.09,0.1,0.11,0.12,0.13,0.14,0.15,0.16,0.17,0.18,0.19,0.2,0.21,0.22,0.23,0.24,0.25],"format":"~g","labelExpr":"round(datum.value*100) % 5 === 0 ? datum.label : ''","title":"φ [−]","titleX":409.5,"titleY":21.7,"titleAlign":"center","titleBaseline":"middle","titleAngle":0}},
     "y":{"field":"x","type":"quantitative","scale":{"domain":[0,0.2],"nice":false,"zero":false},
      "axis":{"orient":"left","offset":-6,"values":[0,0.01,0.02,0.03,0.04,0.05,0.06,0.07,0.08,0.09,0.1,0.11,0.12,0.13,0.14,0.15,0.16,0.17,0.18,0.19,0.2],"format":"~g","labelExpr":"round(datum.value*100) % 5 === 0 ? datum.label : ''","title":"x [m]","titleX":-17.6,"titleY":62,"titleAlign":"right","titleBaseline":"middle","titleAngle":0}},
     "detail":{"field":"s"}}},
   {"data":{"name":"d_curves"},"transform":[{"filter":"indexof(datum.s,'u') === 0"}],"mark":{"type":"line","order":false,"interpolate":"catmull-rom"},
    "encoding":{
     "x":{"field":"phi","type":"quantitative","scale":{"domain":[0,0.25],"nice":false,"zero":false},"axis":null},
     "y":{"field":"x","type":"quantitative","scale":{"domain":[0,0.2],"nice":false,"zero":false},"axis":null},
     "detail":{"field":"s"}}},
   {"data":{"name":"d_lead"},"mark":{"type":"line","order":false,"strokeWidth":0.8},
    "encoding":{
     "x":{"field":"phi","type":"quantitative","scale":{"domain":[0,0.25],"nice":false,"zero":false},"axis":null},
     "y":{"field":"x","type":"quantitative","scale":{"domain":[0,0.2],"nice":false,"zero":false},"axis":null},
     "detail":{"field":"s"}}},
   {"data":{"name":"d_tc"},"mark":{"type":"text","align":"center","baseline":"middle"},
    "encoding":{
     "x":{"field":"phi","type":"quantitative","scale":{"domain":[0,0.25],"nice":false,"zero":false},
      "axis":{"orient":"top","offset":-6,"values":[0,0.01,0.02,0.03,0.04,0.05,0.06,0.07,0.08,0.09,0.1,0.11,0.12,0.13,0.14,0.15,0.16,0.17,0.18,0.19,0.2,0.21,0.22,0.23,0.24,0.25],"labels":false,"title":null}},
     "y":{"field":"x","type":"quantitative","scale":{"domain":[0,0.2],"nice":false,"zero":false},
      "axis":{"orient":"right","offset":-6,"values":[0,0.01,0.02,0.03,0.04,0.05,0.06,0.07,0.08,0.09,0.1,0.11,0.12,0.13,0.14,0.15,0.16,0.17,0.18,0.19,0.2],"labels":false,"title":null}},
     "text":{"field":"t"},
     "size":{"field":"role","type":"nominal","scale":{"type":"ordinal","domain":["label","note","panel","sub"],"range":[14,16,22,11]},"legend":null}}},
   {"data":{"name":"d_tl"},"mark":{"type":"text","align":"left","baseline":"middle"},
    "encoding":{
     "x":{"field":"phi","type":"quantitative","scale":{"domain":[0,0.25],"nice":false,"zero":false},"axis":null},
     "y":{"field":"x","type":"quantitative","scale":{"domain":[0,0.2],"nice":false,"zero":false},"axis":null},
     "text":{"field":"t"},
     "size":{"field":"role","type":"nominal","scale":{"type":"ordinal","domain":["label","note","panel","sub"],"range":[14,16,22,11]},"legend":null}}},
   {"data":{"name":"d_tr"},"mark":{"type":"text","align":"right","baseline":"middle"},
    "encoding":{
     "x":{"field":"phi","type":"quantitative","scale":{"domain":[0,0.25],"nice":false,"zero":false},"axis":null},
     "y":{"field":"x","type":"quantitative","scale":{"domain":[0,0.2],"nice":false,"zero":false},"axis":null},
     "text":{"field":"t"},
     "size":{"field":"role","type":"nominal","scale":{"type":"ordinal","domain":["label","note","panel","sub"],"range":[14,16,22,11]},"legend":null}}}
  ],
  "resolve":{"axis":{"x":"independent","y":"independent"}}
 }
]
}
